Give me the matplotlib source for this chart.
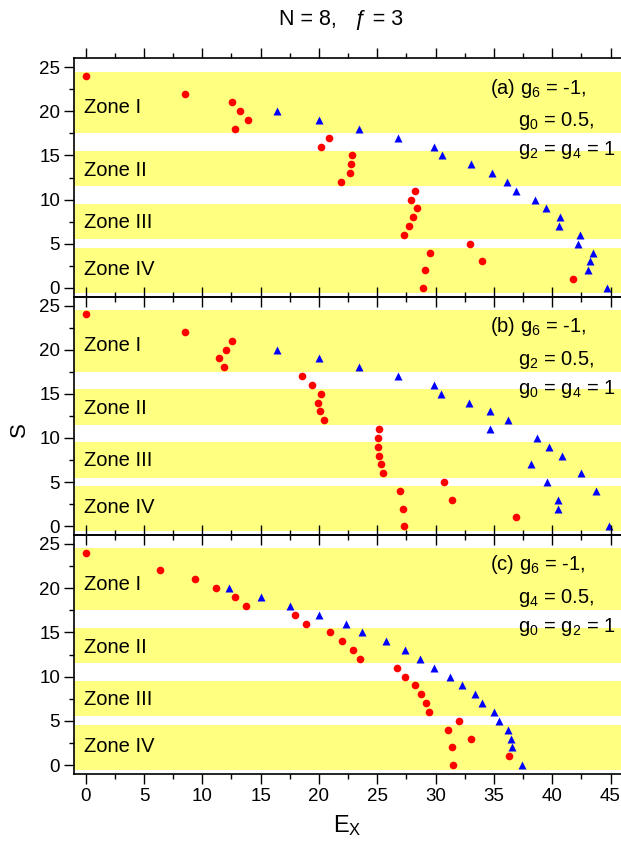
import numpy as np
import matplotlib
matplotlib.use("Agg")
import matplotlib.pyplot as plt
from matplotlib.ticker import MultipleLocator

plt.rcParams['font.family'] = ['Liberation Sans', 'DejaVu Sans']
plt.rcParams['mathtext.default'] = 'regular'

# -----------------------------
# data
# -----------------------------
red_S = [24, 22, 21, 20, 19, 18, 17, 16, 15, 14, 13, 12,
         11, 10, 9, 8, 7, 6, 5, 4, 3, 2, 1, 0]
red_a = [0.0, 8.55, 12.55, 13.27, 13.9, 12.78, 20.9, 20.18, 22.84, 22.78, 22.67, 21.9,
         28.24, 27.87, 28.38, 28.06, 27.75, 27.26, 32.95, 29.55, 34.0, 29.12, 41.8, 28.89]
red_b = [0.0, 8.55, 12.55, 12.07, 11.47, 11.87, 18.58, 19.41, 20.15, 19.92, 20.07, 20.41,
         25.15, 25.09, 25.06, 25.18, 25.35, 25.52, 30.69, 26.98, 31.43, 27.18, 36.89, 27.32]
red_c = [0.0, 6.41, 9.41, 11.18, 12.84, 13.73, 17.95, 18.87, 20.98, 22.0, 22.95, 23.5,
         26.69, 27.35, 28.26, 28.75, 29.2, 29.46, 32.0, 31.06, 33.03, 31.43, 36.31, 31.52]

blue_S = [20, 19, 18, 17, 16, 15, 14, 13, 12, 11,
          10, 9, 8, 7, 6, 5, 4, 3, 2, 0]
blue_a = [16.38, 19.98, 23.4, 26.75, 29.84, 30.55, 33.03, 34.83, 36.15, 36.89,
          38.52, 39.49, 40.69, 40.6, 42.35, 42.23, 43.46, 43.23, 43.03, 44.69]
blue_b = [16.38, 19.98, 23.46, 26.75, 29.84, 30.46, 32.89, 34.69, 36.18, 34.69,
          38.66, 39.74, 40.83, 38.17, 42.49, 39.52, 43.72, 40.46, 40.46, 44.88]
blue_c = [12.27, 15.01, 17.55, 20.01, 22.33, 23.72, 25.72, 27.35, 28.69, 29.89,
          31.21, 32.29, 33.35, 33.95, 34.98, 35.46, 36.23, 36.43, 36.57, 37.38]

zone_names = ["Zone I", "Zone II", "Zone III", "Zone IV"]
zone_lo = [17.5, 11.5, 5.5, -0.6]
zone_hi = [24.5, 15.5, 9.5, 4.5]
zone_label_y = [19.8, 12.66, 6.83, 1.5]

labels_a = ["(a) g$_6$ = -1,", "g$_0$ = 0.5,", "g$_2$ = g$_4$ = 1"]
labels_b = ["(b) g$_6$ = -1,", "g$_2$ = 0.5,", "g$_0$ = g$_4$ = 1"]
labels_c = ["(c) g$_6$ = -1,", "g$_4$ = 0.5,", "g$_0$ = g$_2$ = 1"]

panels = [(red_a, blue_a, labels_a),
          (red_b, blue_b, labels_b),
          (red_c, blue_c, labels_c)]

# -----------------------------
# figure
# -----------------------------
fig = plt.figure(figsize=(6.21, 8.43), dpi=100)
W, H = 621.0, 843.0
left = 74 / W
width = 1.0 - left
tops = [58.3, 296.7, 535.0]
bots = [296.7, 535.0, 774.0]

for i, (red_E, blue_E, labels) in enumerate(panels):
    ax = fig.add_axes([left, 1 - bots[i] / H, width, (bots[i] - tops[i]) / H])

    for lo, hi in zip(zone_lo, zone_hi):
        ax.axhspan(lo, hi, color='#FFFF80', lw=0, zorder=0)
    for name, yy in zip(zone_names, zone_label_y):
        ax.text(-0.1, yy, name, fontsize=14.5, va='baseline', ha='left')

    ax.plot(red_E, red_S, 'o', color='#FF0000', ms=5.5, mec='none', zorder=3)
    ax.plot(blue_E, blue_S, '^', color='#0000FF', ms=6, mec='none', zorder=3)

    ax.text(34.66, 22.0, labels[0], fontsize=14.5, va='baseline', ha='left')
    ax.text(37.09, 18.3, labels[1], fontsize=14.5, va='baseline', ha='left')
    ax.text(37.09, 15.0, labels[2], fontsize=14.5, va='baseline', ha='left')

    ax.set_xlim(-1, 45.9)
    ax.set_ylim(-1, 26)
    ax.xaxis.set_major_locator(MultipleLocator(5))
    ax.xaxis.set_minor_locator(MultipleLocator(2.5))
    ax.yaxis.set_major_locator(MultipleLocator(5))
    ax.yaxis.set_minor_locator(MultipleLocator(2.5))
    ax.tick_params(which='both', direction='out', top=True, bottom=True,
                   left=True, right=False, width=1.0, labelsize=13.5)
    ax.tick_params(which='major', length=7, pad=3)
    ax.tick_params(which='minor', length=3.6)
    ax.tick_params(axis='x', labelbottom=(i == 2), labeltop=False)
    for side in ['top', 'bottom', 'left']:
        ax.spines[side].set_linewidth(1.2)
    ax.spines['right'].set_visible(False)
    ax.patch.set_alpha(0)

fig.text(341.5 / W, 1 - 19 / H, "N = 8,   \u0192 = 3", fontsize=15.5,
         ha='center', va='center')
fig.text(347.5 / W, 1 - 826 / H, "E$_X$", fontsize=17, ha='center', va='center')
fig.text(19 / W, 1 - 430 / H, "S", fontsize=16, ha='center', va='center',
         rotation=90)

fig.savefig("out.png", dpi=100)
